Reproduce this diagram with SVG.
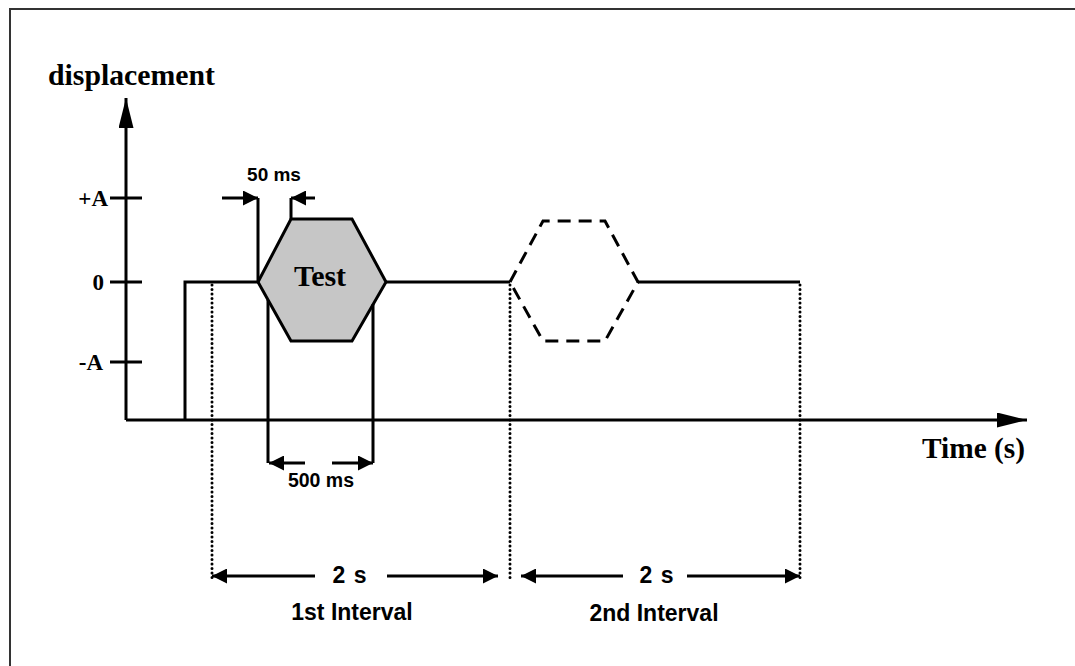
<svg xmlns="http://www.w3.org/2000/svg" width="1075" height="666" viewBox="0 0 1075 666">
<style>
.ln{stroke:#000;stroke-width:3;fill:none}
.dot{stroke:#000;stroke-width:3;fill:none;stroke-dasharray:0 4.5;stroke-linecap:round}
.dash{stroke:#000;stroke-width:3;fill:none;stroke-dasharray:13 8}
.serif{font-family:"Liberation Serif","Times New Roman",serif;font-weight:bold;fill:#000}
.sans{font-family:"Liberation Sans",Arial,sans-serif;font-weight:bold;fill:#000}
</style>
<defs>
<marker id="ah" viewBox="0 0 10 10" refX="10" refY="5" markerWidth="5" markerHeight="5" orient="auto" markerUnits="strokeWidth">
<path d="M0,0 L10,5 L0,10 Z" fill="#000"/>
</marker>
<marker id="axh" viewBox="0 0 20 10" refX="20" refY="5" markerWidth="10" markerHeight="5" orient="auto" markerUnits="strokeWidth">
<path d="M0,0 L20,5 L0,10 Z" fill="#000"/>
</marker>
</defs>
<rect width="1075" height="666" fill="#fff"/>
<path d="M10,666 V9 H1075" stroke="#333" stroke-width="2" fill="none"/>
<g id="axes">
<path class="ln" d="M126,420 V98" marker-end="url(#axh)"/>
<path class="ln" d="M126,420 H1027" marker-end="url(#axh)"/>
<path class="ln" d="M110,198 H142 M110,282 H142 M110,362 H142"/>
<text class="serif" x="48" y="85" font-size="29" textLength="167" lengthAdjust="spacingAndGlyphs">displacement</text>
<text class="serif" x="922" y="458" font-size="29" textLength="103" lengthAdjust="spacingAndGlyphs">Time (s)</text>
<text class="serif" x="108" y="206" font-size="23" text-anchor="end">+A</text>
<text class="serif" x="104" y="290" font-size="23" text-anchor="end">0</text>
<text class="serif" x="103" y="370" font-size="23" text-anchor="end">-A</text>
</g>
<g id="signal">
<path class="ln" d="M185,420 V282 H258 M386,282 H510 M638,282 H800"/>
</g>
<g id="test">
<polygon points="258,282 291,219 352,219 386,282 352,341 291,341" fill="#c6c6c6" stroke="#000" stroke-width="3"/>
<text class="serif" x="320" y="286" font-size="30" text-anchor="middle">Test</text>
</g>
<g id="second-test">
<polygon class="dash" points="510,282 543,221 605,221 638,282 605,341 543,341"/>
</g>
<g id="connectors">
<path class="ln" d="M258,282 V198 M291,219 V198 M268,300 V463 M373,304 V463"/>
<path class="ln" d="M222,198 H258" marker-end="url(#ah)"/>
<path class="ln" d="M315,198 H291" marker-end="url(#ah)"/>
<path class="ln" d="M305,463 H269" marker-end="url(#ah)"/>
<path class="ln" d="M332,463 H373" marker-end="url(#ah)"/>
<path class="dot" d="M212,285 V578 M510,285 V578 M800,285 V578"/>
<path class="ln" d="M315,576 H212" marker-end="url(#ah)"/>
<path class="ln" d="M387,576 H498" marker-end="url(#ah)"/>
<path class="ln" d="M623,576 H521" marker-end="url(#ah)"/>
<path class="ln" d="M687,576 H800" marker-end="url(#ah)"/>
</g>
<g id="labels">
<text class="sans" x="274" y="181" font-size="19" text-anchor="middle">50 ms</text>
<text class="sans" x="321" y="487" font-size="19.5" text-anchor="middle">500 ms</text>
<text class="sans" x="350" y="583" font-size="23" text-anchor="middle" letter-spacing="1">2 s</text>
<text class="sans" x="657" y="583" font-size="23" text-anchor="middle" letter-spacing="1">2 s</text>
<text class="sans" x="352" y="620" font-size="23" text-anchor="middle">1st Interval</text>
<text class="sans" x="654" y="621" font-size="23" text-anchor="middle">2nd Interval</text>
</g>
</svg>
